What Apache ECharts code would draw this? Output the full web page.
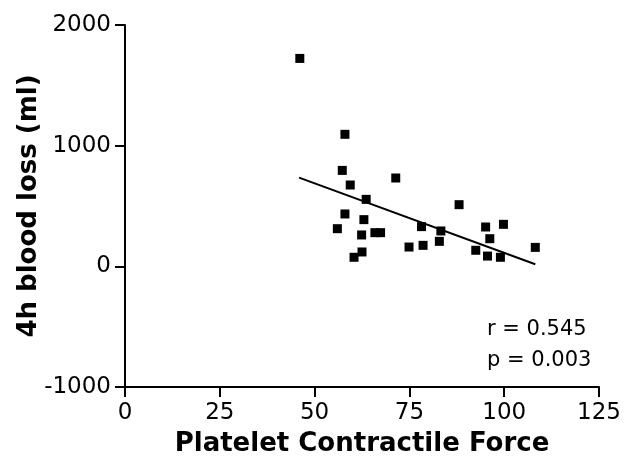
<!DOCTYPE html>
<html><head><meta charset="utf-8">
<script src="https://cdn.jsdelivr.net/npm/echarts@6/dist/echarts.min.js"></script>
<style>html,body{margin:0;padding:0;background:#fff}#c{width:632px;height:465px}</style>
</head><body><div id="c"></div>
<script>
const forceX = [46.1, 58.0, 57.3, 59.4, 71.4, 63.6, 58.0, 63.0, 56.0, 62.4, 65.9, 67.4, 78.2, 83.3, 62.5, 60.4, 74.9, 78.6, 82.9, 88.1, 95.1, 99.8, 96.2, 92.5, 95.6, 99.0, 108.2];
const lossY  = [1723, 1094, 795, 674, 732, 555, 434, 387, 312, 260, 279, 279, 329, 293, 119, 75, 160, 174, 207, 511, 326, 348, 229, 133, 85, 75, 157];
const fitX = [45.9, 108.2];
const fitY = [735, 17];
const xTicks = {min: 0, max: 125, interval: 25};
const yTicks = {min: -1000, max: 2000, interval: 1000};
const statLines = ['r = 0.545', 'p = 0.003'];

const font = '"DejaVu Sans", sans-serif';
const chart = echarts.init(document.getElementById('c'));
chart.setOption({
  animation: false,
  backgroundColor: '#fff',
  grid: {left: 125, right: 33, top: 25, bottom: 78},
  xAxis: {
    type: 'value', min: xTicks.min, max: xTicks.max, interval: xTicks.interval,
    name: 'Platelet Contractile Force', nameLocation: 'middle', nameGap: 44,
    nameTextStyle: {fontFamily: font, fontWeight: 'bold', fontSize: 26, color: '#000'},
    axisLine: {onZero: false, lineStyle: {color: '#000', width: 2}},
    axisTick: {show: true, length: 10, lineStyle: {color: '#000', width: 2}},
    axisLabel: {fontFamily: font, fontSize: 23, color: '#000', margin: 15, formatter: v => String(v)},
    splitLine: {show: false}
  },
  yAxis: {
    type: 'value', min: yTicks.min, max: yTicks.max, interval: yTicks.interval,
    name: '4h blood loss (ml)', nameLocation: 'middle', nameGap: 83, nameMoveOverlap: false,
    nameTextStyle: {fontFamily: font, fontWeight: 'bold', fontSize: 26, color: '#000'},
    axisLine: {onZero: false, lineStyle: {color: '#000', width: 2}},
    axisTick: {show: true, length: 10, lineStyle: {color: '#000', width: 2}},
    axisLabel: {fontFamily: font, fontSize: 23, color: '#000', margin: 14, formatter: v => String(v)},
    splitLine: {show: false}
  },
  series: [
    {
      type: 'scatter', symbol: 'rect', symbolSize: 9,
      itemStyle: {color: '#000', opacity: 1},
      data: forceX.map((x, i) => [x, lossY[i]])
    },
    {
      type: 'line', symbol: 'none',
      lineStyle: {color: '#000', width: 2},
      data: fitX.map((x, i) => [x, fitY[i]])
    }
  ],
  graphic: statLines.map((t, i) => ({
    type: 'text', left: 487, top: 319 + i * 31,
    style: {text: t, fontFamily: font, fontSize: 21, fill: '#000'}
  }))
});
</script></body></html>
